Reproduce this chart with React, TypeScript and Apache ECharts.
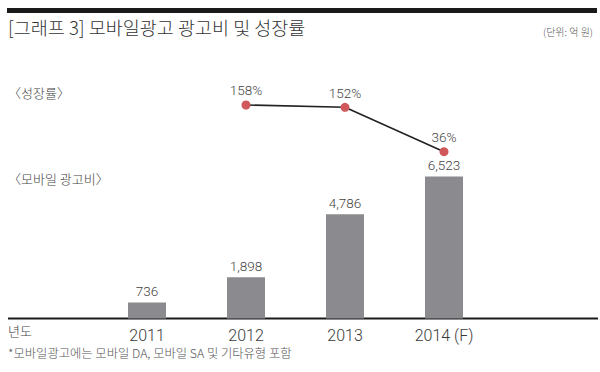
import React, { useEffect, useRef } from "react";
import * as echarts from "echarts";

const years = ["2011", "2012", "2013", "2014 (F)"];
const adSpend = [736, 1898, 4786, 6523];
const growth: (number | null)[] = [null, 158, 152, 36];

const TITLE = "[그래프 3] 모바일광고 광고비 및 성장률";
const UNIT = "(단위: 억 원)";
const GROWTH_LABEL = "〈성장률〉";
const SPEND_LABEL = "〈모바일 광고비〉";
const YEAR_LABEL = "년도";
const FOOTNOTE = "*모바일광고에는 모바일 DA, 모바일 SA 및 기타유형 포함";

const KR = '"Noto Sans CJK KR", "Noto Sans", sans-serif';
const NUM = 'Roboto, "Liberation Sans", sans-serif';

export default function App() {
  const ref = useRef<HTMLDivElement>(null);
  useEffect(() => {
    if (!ref.current) return;
    const chart = echarts.init(ref.current, null, { renderer: "svg" });
    const gridLeft = 97.5;
    const gridWidth = 396;
    chart.setOption({
      animation: false,
      backgroundColor: "#ffffff",
      grid: [
        { left: gridLeft, width: gridWidth, top: 100.8, height: 217.7 },
        { left: gridLeft, width: gridWidth, top: 88.9, height: 76.6 },
      ],
      xAxis: [
        {
          type: "category",
          gridIndex: 0,
          data: years,
          axisLine: { show: false },
          axisTick: { show: false },
          axisLabel: {
            margin: 9,
            fontFamily: NUM,
            fontWeight: 300,
            fontSize: 16,
            color: "#3a3a3a",
          },
        },
        {
          type: "category",
          gridIndex: 1,
          data: years,
          show: false,
        },
      ],
      yAxis: [
        { type: "value", gridIndex: 0, min: 0, max: 10000, show: false, splitLine: { show: false } },
        { type: "value", gridIndex: 1, min: 0, max: 200, show: false, splitLine: { show: false } },
      ],
      series: [
        {
          type: "bar",
          xAxisIndex: 0,
          yAxisIndex: 0,
          data: adSpend,
          barWidth: 38,
          itemStyle: { color: "#8b8b8f" },
          label: {
            show: true,
            position: "top",
            distance: 4,
            fontFamily: NUM,
            fontWeight: 300,
            fontSize: 13.5,
            color: "#444",
            formatter: (p: any) => Number(p.value).toLocaleString("en-US"),
          },
        },
        {
          type: "line",
          xAxisIndex: 1,
          yAxisIndex: 1,
          data: growth,
          symbol: "circle",
          symbolSize: 9,
          itemStyle: { color: "#d0585a" },
          lineStyle: { color: "#222", width: 1.6 },
          label: {
            show: true,
            position: "top",
            distance: 3,
            fontFamily: NUM,
            fontWeight: 300,
            fontSize: 13.5,
            color: "#444",
            formatter: (p: any) => `${p.value}%`,
          },
          z: 5,
        },
      ],
      graphic: [
        { type: "rect", shape: { x: 7, y: 8, width: 590, height: 5 }, style: { fill: "#1a1a1a" } },
        {
          type: "text",
          left: 8,
          top: 18,
          style: { text: TITLE, fontFamily: KR, fontWeight: 300, fontSize: 18.5, fill: "#333" },
        },
        {
          type: "text",
          right: 7,
          top: 26,
          style: { text: UNIT, fontFamily: KR, fontWeight: 300, fontSize: 10, fill: "#555" },
        },
        {
          type: "text",
          left: 8,
          top: 86,
          style: { text: GROWTH_LABEL, fontFamily: KR, fontWeight: 300, fontSize: 13, fill: "#444" },
        },
        {
          type: "text",
          left: 8,
          top: 172,
          style: { text: SPEND_LABEL, fontFamily: KR, fontWeight: 300, fontSize: 13, fill: "#444" },
        },
        { type: "rect", shape: { x: 8, y: 317.5, width: 590, height: 2 }, style: { fill: "#1a1a1a" } },
        {
          type: "text",
          left: 8,
          top: 324,
          style: { text: YEAR_LABEL, fontFamily: KR, fontWeight: 300, fontSize: 13, fill: "#444" },
        },
        {
          type: "text",
          left: 8,
          top: 347,
          style: { text: FOOTNOTE, fontFamily: KR, fontWeight: 300, fontSize: 12.3, fill: "#555" },
        },
      ],
    });
    return () => chart.dispose();
  }, []);
  return (
    <div
      ref={ref}
      style={{ position: "fixed", left: 0, top: 0, width: 600, height: 372, background: "#fff" }}
    />
  );
}
